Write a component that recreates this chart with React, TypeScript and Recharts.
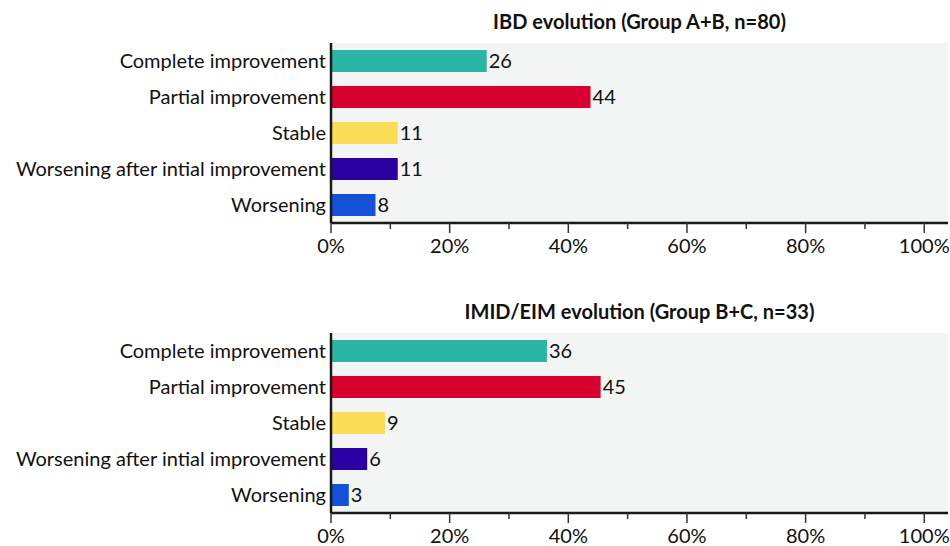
import React from "react";
import {
  BarChart,
  Bar,
  XAxis,
  YAxis,
  CartesianGrid,
  LabelList,
  Cell,
} from "recharts";

const categories = [
  "Complete improvement",
  "Partial improvement",
  "Stable",
  "Worsening after intial improvement",
  "Worsening",
];

// percentages of patients (group A+B n=80, group B+C n=33)
const ibdValues = [26.25, 43.75, 11.25, 11.25, 7.5];
const imidValues = [36.4, 45.45, 9.1, 6.1, 3.0];

const barColors = ["#2ab5a4", "#d7002f", "#fcdd58", "#2a00a0", "#1550d8"];

const xTicks = [0, 10, 20, 30, 40, 50, 60, 70, 80, 90, 100];

const FONT = "Lato, 'Noto Sans', sans-serif";
const INK = "#111";

const XTick = ({ x, y, payload }: any) => {
  const major = payload.value % 20 === 0;
  return (
    <g>
      <line x1={x} x2={x} y1={y} y2={y + (major ? 10 : 6)} stroke="#333" strokeWidth={1.5} />
      {major && (
        <text x={x} y={y + 30} textAnchor="middle" fill={INK} fontSize={20} fontFamily={FONT}>
          {payload.value + "%"}
        </text>
      )}
    </g>
  );
};

const EvolutionChart = ({ title, values, top, height }: any) => {
  const data = categories.map((name, i) => ({ name, value: values[i] }));
  return (
    <div style={{ position: "absolute", left: 0, top, width: 950, height }}>
      <div
        style={{
          position: "absolute",
          left: 331,
          width: 617,
          top: 10,
          textAlign: "center",
          fontFamily: FONT,
          fontWeight: 700,
          fontSize: 20,
          lineHeight: "22px",
          color: INK,
        }}
      >
        {title}
      </div>
      <BarChart
        width={950}
        height={height}
        data={data}
        layout="vertical"
        margin={{ top: 43, right: 2, left: 0, bottom: 0 }}
        barSize={22}
      >
        <CartesianGrid fill="#f2f5f4" horizontal={false} vertical={false} />
        <XAxis
          type="number"
          domain={[0, 104]}
          ticks={xTicks}
          interval={0}
          allowDataOverflow
          height={height - 223}
          tickLine={false}
          tickSize={0}
          tickMargin={0}
          axisLine={{ stroke: "#1a1a1a", strokeWidth: 2.5 }}
          tick={<XTick />}
        />
        <YAxis
          type="category"
          dataKey="name"
          width={331}
          interval={0}
          tickLine={false}
          tickSize={0}
          tickMargin={5}
          axisLine={{ stroke: "#1a1a1a", strokeWidth: 2.5 }}
          tick={{ fill: INK, fontSize: 20, fontFamily: FONT }}
        />
        <Bar dataKey="value" isAnimationActive={false}>
          {data.map((d, i) => (
            <Cell key={d.name} fill={barColors[i]} />
          ))}
          <LabelList
            dataKey="value"
            position="right"
            offset={2}
            formatter={(v: any) => Math.round(v)}
            fill={INK}
            fontSize={20}
            fontFamily={FONT}
          />
        </Bar>
      </BarChart>
    </div>
  );
};

export default function App() {
  return (
    <div style={{ position: "absolute", left: 0, top: 0, width: 950, height: 546, background: "#fff" }}>
      <EvolutionChart title="IBD evolution (Group A+B, n=80)" values={ibdValues} top={0} height={265} />
      <EvolutionChart title="IMID/EIM evolution (Group B+C, n=33)" values={imidValues} top={290} height={256} />
    </div>
  );
}
